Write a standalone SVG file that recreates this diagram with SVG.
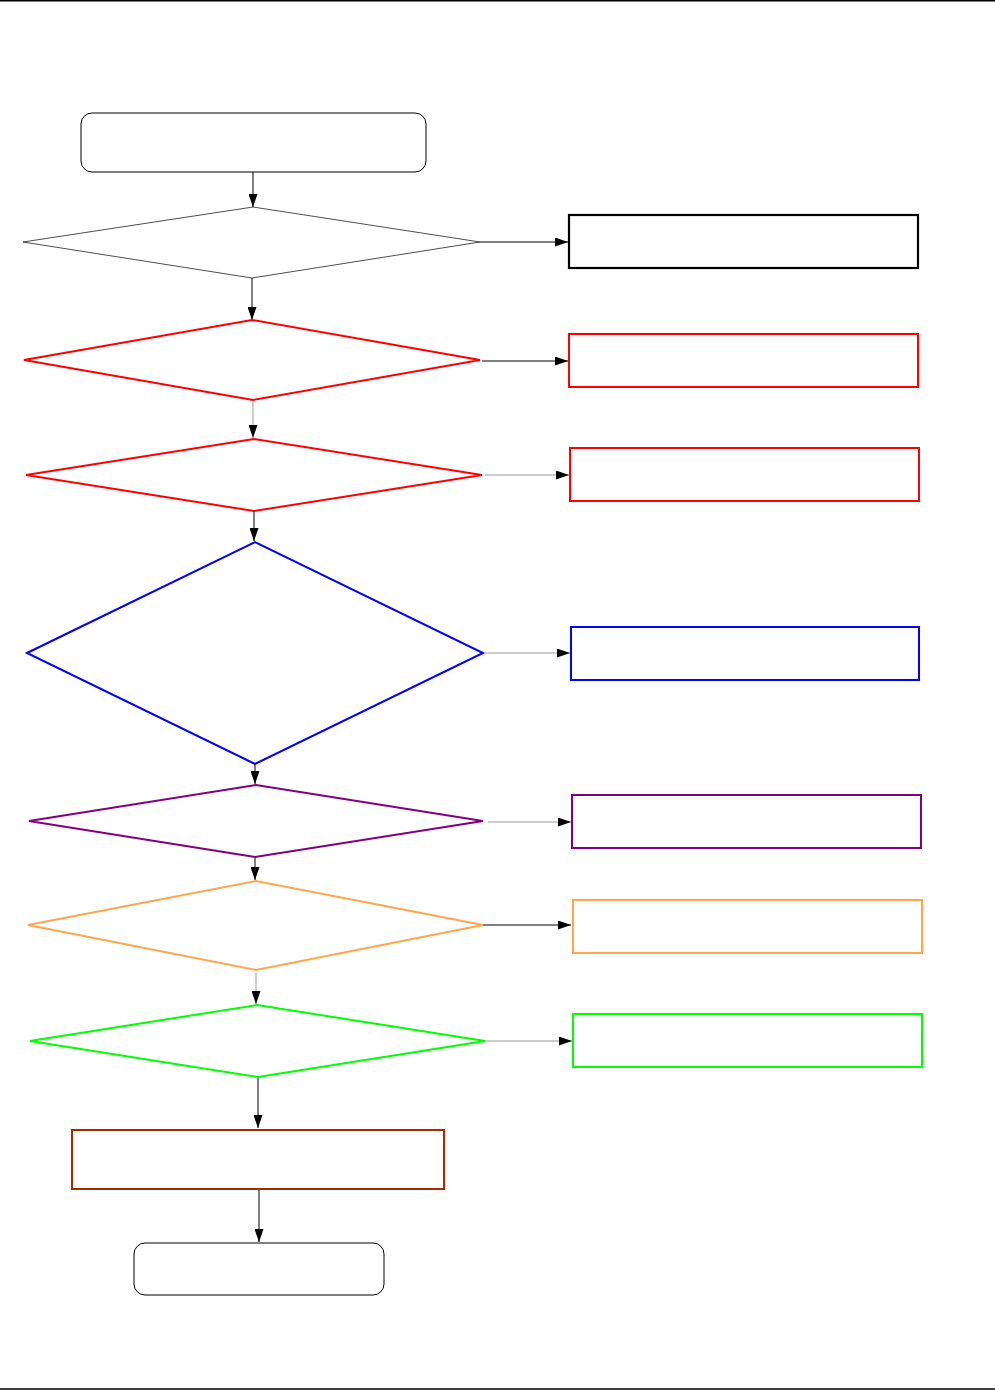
<svg xmlns="http://www.w3.org/2000/svg" width="995" height="1390" viewBox="0 0 995 1390">
<style>
.bg{fill:#fff}
.n{fill:#fff}
.c{stroke:#000;stroke-width:1;fill:none;marker-end:url(#ah)}
.cg{stroke:#999;stroke-width:1;fill:none;marker-end:url(#ah)}
.rule{stroke:#000;stroke-width:1.5}
</style>
<defs>
<marker id="ah" viewBox="0 0 13 9" refX="13" refY="4.5" markerWidth="13" markerHeight="9" markerUnits="userSpaceOnUse" orient="auto">
<path d="M0,0 L13,4.5 L0,9 Z" fill="#000"/>
</marker>
</defs>
<rect class="bg" x="0" y="0" width="995" height="1390"/>
<line class="rule" x1="0" y1="0.8" x2="995" y2="0.8"/>
<line class="rule" x1="0" y1="1389" x2="995" y2="1389"/>

<g id="connectors">
<line class="c" x1="253" y1="172" x2="253" y2="207"/>
<line class="c" x1="480" y1="242" x2="568" y2="242"/>
<line class="c" x1="252" y1="278" x2="252" y2="320"/>
<line class="c" x1="482" y1="361" x2="568" y2="361"/>
<line class="cg" x1="253" y1="401" x2="253" y2="438"/>
<line class="cg" x1="485" y1="475" x2="569" y2="475"/>
<line class="c" x1="254" y1="511" x2="254" y2="541"/>
<line class="cg" x1="485" y1="653" x2="570" y2="653"/>
<line class="c" x1="255" y1="764" x2="255" y2="784"/>
<line class="cg" x1="488" y1="822" x2="571" y2="822"/>
<line class="c" x1="255" y1="857" x2="255" y2="880"/>
<line class="c" x1="483" y1="925" x2="571" y2="925"/>
<line class="cg" x1="256" y1="973" x2="256" y2="1004"/>
<line class="cg" x1="485" y1="1041" x2="572" y2="1041"/>
<line class="c" x1="258" y1="1077" x2="258" y2="1128"/>
<line class="c" x1="259" y1="1190" x2="259" y2="1242"/>
</g>

<g id="start"><rect class="n" x="81" y="113" width="345" height="59" rx="11" stroke="#000" stroke-width="1"/></g>
<g id="d1"><polygon class="n" points="23,242 253,207 480,242 252,278" stroke="#000" stroke-width="0.7"/></g>
<g id="b1"><rect class="n" x="569" y="215" width="349" height="53" stroke="#000" stroke-width="2.2"/></g>
<g id="d2"><polygon class="n" points="24,360 252,320 480,360 253,400" stroke="#ff0000" stroke-width="2"/></g>
<g id="b2"><rect class="n" x="569" y="334" width="349" height="53" stroke="#ff0000" stroke-width="2"/></g>
<g id="d3"><polygon class="n" points="26,475 254,439 482,475 254,511" stroke="#ff0000" stroke-width="2"/></g>
<g id="b3"><rect class="n" x="570" y="448" width="349" height="53" stroke="#ff0000" stroke-width="2"/></g>
<g id="d4"><polygon class="n" points="27,653 255,542 483,653 255,764" stroke="#0000ff" stroke-width="2"/></g>
<g id="b4"><rect class="n" x="571" y="627" width="348" height="53" stroke="#0000ff" stroke-width="2"/></g>
<g id="d5"><polygon class="n" points="29,821 256,785 483,821 255,857" stroke="#800080" stroke-width="2"/></g>
<g id="b5"><rect class="n" x="572" y="795" width="349" height="53" stroke="#800080" stroke-width="2"/></g>
<g id="d6"><polygon class="n" points="28,925 256,881 483,925 256,970" stroke="#ffa64d" stroke-width="2"/></g>
<g id="b6"><rect class="n" x="573" y="900" width="349" height="53" stroke="#ffa64d" stroke-width="2"/></g>
<g id="d7"><polygon class="n" points="30,1041 257,1005 485,1041 258,1077" stroke="#00ff00" stroke-width="2"/></g>
<g id="b7"><rect class="n" x="573" y="1014" width="349" height="53" stroke="#00ff00" stroke-width="2"/></g>
<g id="proc"><rect class="n" x="72" y="1130" width="372" height="59" stroke="#a52a00" stroke-width="2"/></g>
<g id="end"><rect class="n" x="134" y="1243" width="250" height="52" rx="11" stroke="#000" stroke-width="1"/></g>
</svg>
